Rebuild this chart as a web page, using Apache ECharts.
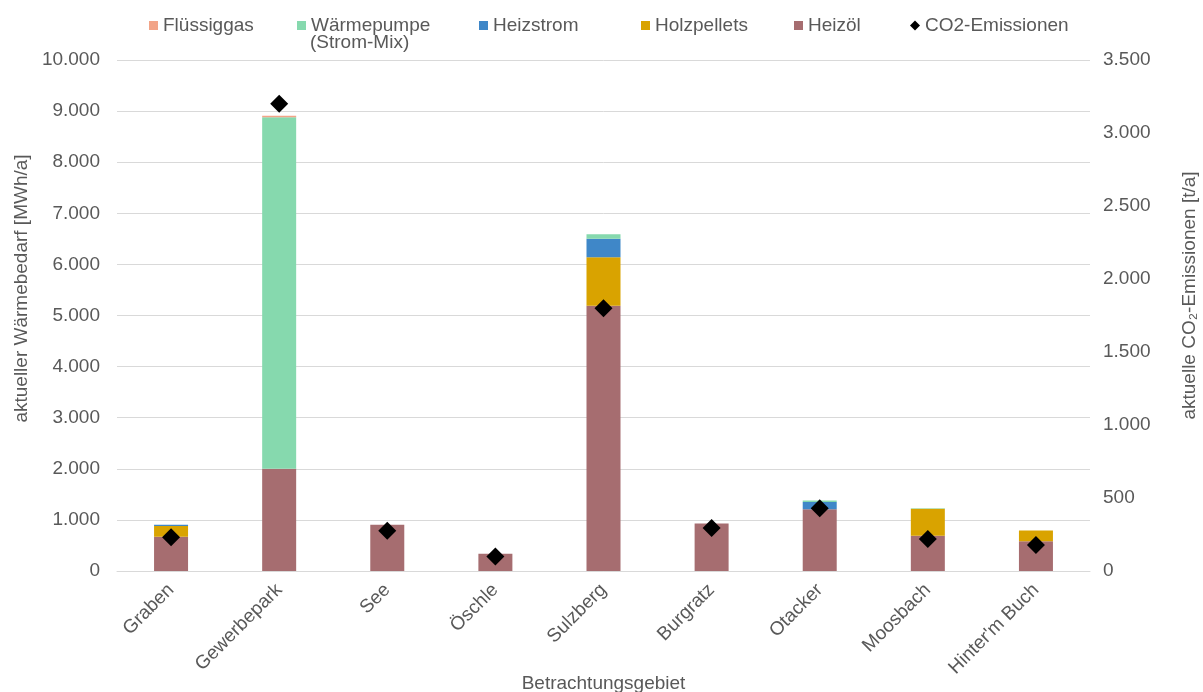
<!DOCTYPE html>
<html>
<head>
<meta charset="utf-8">
<style>
  html, body { margin: 0; padding: 0; background: #ffffff; }
  #chart { width: 1203px; height: 692px; }
</style>
<script src="https://cdn.jsdelivr.net/npm/echarts@6/dist/echarts.min.js"></script>
</head>
<body>
<div id="chart"></div>
<script>
// Betrachtungsgebiete (x-axis categories)
const categories = ['Graben', 'Gewerbepark', 'See', 'Öschle', 'Sulzberg', 'Burgratz', 'Otacker', 'Moosbach', "Hinter'm Buch"];

// Wärmebedarf by energy source [MWh/a]
const heizoel      = [670, 2000, 905, 340, 5190, 930, 1210, 690, 580];
const holzpellets  = [210, 0, 0, 0, 950, 0, 0, 530, 215];
const heizstrom    = [25, 0, 0, 0, 360, 0, 140, 0, 0];
const waermepumpe  = [0, 6880, 0, 0, 90, 0, 30, 10, 0];
const fluessiggas  = [0, 30, 0, 0, 0, 0, 0, 0, 0];

// CO2 emissions [t/a]
const co2 = [231, 3200, 276, 100, 1800, 295, 429, 219, 178];

const FONT = '"Liberation Sans", Arial, sans-serif';
const TEXT = '#595959';
const GRID = '#d9d9d9';

function fmt(v) {
  return String(v).replace(/\B(?=(\d{3})+(?!\d))/g, '.');
}

function legendAt(name, left, icon, size) {
  return {
    data: [name],
    left: left,
    top: 11,
    icon: icon,
    itemWidth: size,
    itemHeight: size,
    itemGap: 0,
    textStyle: { fontFamily: FONT, fontSize: 19, color: TEXT },
    selectedMode: false
  };
}

function stackBar(name, data, color) {
  return {
    name: name,
    type: 'bar',
    stack: 'bedarf',
    barWidth: 34,
    data: data,
    itemStyle: { color: color },
    emphasis: { disabled: true }
  };
}

const chart = echarts.init(document.getElementById('chart'), null, { renderer: 'canvas' });

chart.setOption({
  animation: false,
  backgroundColor: '#ffffff',
  textStyle: { fontFamily: FONT },
  grid: { left: 117, right: 113, top: 60, bottom: 121, containLabel: false, outerBoundsMode: 'none' },
  legend: [
    legendAt('Flüssiggas', 144, 'rect', 9),
    legendAt('Wärmepumpe', 292, 'rect', 9),
    legendAt('Heizstrom', 474, 'rect', 9),
    legendAt('Holzpellets', 636, 'rect', 9),
    legendAt('Heizöl', 789, 'rect', 9),
    legendAt('CO2-Emissionen', 905, 'diamond', 10)
  ],
  graphic: [{
    type: 'text',
    left: 310,
    top: 33,
    style: { text: '(Strom-Mix)', font: '19px ' + FONT, fill: TEXT }
  }],
  xAxis: {
    type: 'category',
    data: categories,
    name: 'Betrachtungsgebiet',
    nameLocation: 'middle',
    nameGap: 103,
    nameMoveOverlap: false,
    nameTextStyle: { fontSize: 19, color: TEXT, fontFamily: FONT },
    axisLine: { lineStyle: { color: GRID, width: 1 } },
    axisTick: { show: false },
    axisLabel: { rotate: 45, fontSize: 19, color: TEXT, fontFamily: FONT, margin: 16, interval: 0 }
  },
  yAxis: [{
    type: 'value',
    min: 0,
    max: 10000,
    interval: 1000,
    name: 'aktueller Wärmebedarf [MWh/a]',
    nameLocation: 'middle',
    nameGap: 86,
    nameTextStyle: { fontSize: 19, color: TEXT, fontFamily: FONT, padding: [0, 0, 0, 54] },
    axisLine: { show: false },
    axisTick: { show: false },
    splitLine: { lineStyle: { color: GRID, width: 1 } },
    axisLabel: { fontSize: 19, color: TEXT, fontFamily: FONT, margin: 17, formatter: fmt }
  }, {
    type: 'value',
    min: 0,
    max: 3500,
    interval: 500,
    name: 'aktuelle CO₂-Emissionen [t/a]',
    nameLocation: 'middle',
    nameGap: 90,
    nameTextStyle: { fontSize: 19, color: TEXT, fontFamily: FONT, padding: [0, 0, 0, 40] },
    axisLine: { show: false },
    axisTick: { show: false },
    splitLine: { show: false },
    axisLabel: { fontSize: 19, color: TEXT, fontFamily: FONT, margin: 13, formatter: fmt }
  }],
  series: [
    stackBar('Heizöl', heizoel, '#A66D70'),
    stackBar('Holzpellets', holzpellets, '#D9A300'),
    stackBar('Heizstrom', heizstrom, '#3F87C8'),
    stackBar('Wärmepumpe', waermepumpe, '#86D9AE'),
    stackBar('Flüssiggas', fluessiggas, '#F2A488'),
    {
      name: 'CO2-Emissionen',
      type: 'scatter',
      yAxisIndex: 1,
      symbol: 'diamond',
      symbolSize: 18,
      data: co2,
      itemStyle: { color: '#000000', opacity: 1 },
      z: 5,
      emphasis: { disabled: true }
    }
  ]
});
</script>
</body>
</html>
